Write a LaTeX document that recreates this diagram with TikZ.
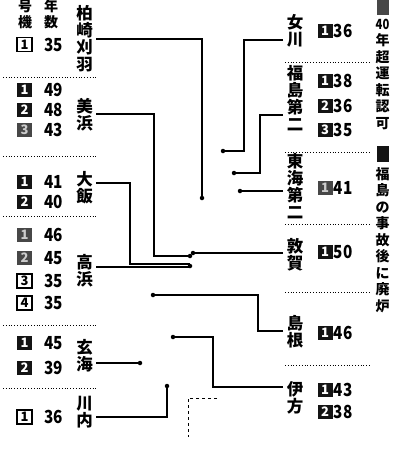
\documentclass[tikz,border=0pt]{standalone}
\usepackage{fontspec}
\newfontfamily\jp{Noto Sans CJK JP}[BoldFont={Noto Sans CJK JP Black}]
\begin{document}
\begin{tikzpicture}[x=1pt,y=-1pt,
  jpname/.style={font=\jp\bfseries\fontsize{16.5}{17}\selectfont, align=center, inner xsep=3.5pt, inner ysep=0pt},
  yrs/.style={font=\jp\bfseries\fontsize{18}{18}\selectfont, inner sep=0pt, xscale=0.85},
  boxbase/.style={minimum width=15pt, minimum height=14pt, inner sep=0pt, font=\jp\bfseries\fontsize{13}{13}\selectfont},
  wbox/.style={boxbase, draw=black, line width=1.2pt, fill=white, text=black},
  xbox/.style={boxbase, fill=black!72, text=white!80!black},
  dbox/.style={boxbase, fill=black!92, text=white},
  sepline/.style={dotted, line width=0.8pt},
  conn/.style={line width=1.2pt, black},
  enddot/.style={circle, fill=black, inner sep=0pt, minimum size=4.5pt},
  legtext/.style={font=\jp\bfseries\fontsize{14}{16.5}\selectfont, align=center, inner sep=0pt},
  head/.style={font=\jp\bfseries\fontsize{14}{16}\selectfont, align=center, inner sep=0pt}
]
\useasboundingbox (0,0) rectangle (397,450);

% ---------- header
\node[head] (h1) at (25,14) {号\\機};
\node[head] (h2) at (51,14) {年\\数};

% ---------- left separators
\foreach \yy in {77,156,216,325,388} \draw[sepline] (3,\yy) -- (97,\yy);
% ---------- right separators
\foreach \yy in {62,152,224,292,365} \draw[sepline] (285,\yy) -- (370,\yy);

% ---------- left names
\node[jpname] (kk) at (84.5,38.5) {柏\\崎\\刈\\羽};
\node[jpname] (mh) at (84.5,115) {美\\浜};
\node[jpname] (oi) at (84.5,187.5) {大\\飯};
\node[jpname] (tk) at (84.5,271) {高\\浜};
\node[jpname] (gk) at (84.5,356) {玄\\海};
\node[jpname] (sd) at (84.5,412) {川\\内};

% ---------- right names
\node[jpname] (og) at (295,31) {女\\川};
\node[jpname] (fd) at (295,98) {福\\島\\第\\二};
\node[jpname] (tt) at (295,186) {東\\海\\第\\二};
\node[jpname] (ts) at (295,255) {敦\\賀};
\node[jpname] (sm) at (295,332) {島\\根};
\node[jpname] (ik) at (295,398) {伊\\方};

% ---------- left rows
\node[wbox] (kk1) at (24.5,44.5) {1}; \node[yrs] (kk1y) at (53.5,44.5) {35};
\node[dbox] (mh1) at (24.5,90) {1};  \node[yrs] (mh1y) at (53.5,90) {49};
\node[dbox] (mh2) at (24.5,110) {2}; \node[yrs] (mh2y) at (53.5,110) {48};
\node[xbox] (mh3) at (24.5,130) {3}; \node[yrs] (mh3y) at (53.5,130) {43};
\node[dbox] (oi1) at (24.5,182) {1}; \node[yrs] (oi1y) at (53.5,182) {41};
\node[dbox] (oi2) at (24.5,202) {2}; \node[yrs] (oi2y) at (53.5,202) {40};
\node[xbox] (tk1) at (24.5,235) {1}; \node[yrs] (tk1y) at (53.5,235) {46};
\node[xbox] (tk2) at (24.5,258) {2}; \node[yrs] (tk2y) at (53.5,258) {45};
\node[wbox] (tk3) at (24.5,281) {3}; \node[yrs] (tk3y) at (53.5,281) {35};
\node[wbox] (tk4) at (24.5,303) {4}; \node[yrs] (tk4y) at (53.5,303) {35};
\node[dbox] (gk1) at (24.5,343) {1}; \node[yrs] (gk1y) at (53.5,343) {45};
\node[dbox] (gk2) at (24.5,368) {2}; \node[yrs] (gk2y) at (53.5,368) {39};
\node[wbox] (sd1) at (24.5,417) {1}; \node[yrs] (sd1y) at (53.5,417) {36};

% ---------- right rows
\node[dbox] (og1) at (325,31) {1};  \node[yrs] (og1y) at (343,31) {36};
\node[dbox] (fd1) at (325,81) {1};  \node[yrs] (fd1y) at (343,81) {38};
\node[dbox] (fd2) at (325,106) {2}; \node[yrs] (fd2y) at (343,106) {36};
\node[dbox] (fd3) at (325,130) {3}; \node[yrs] (fd3y) at (343,130) {35};
\node[xbox] (tt1) at (325,188) {1}; \node[yrs] (tt1y) at (343,188) {41};
\node[dbox] (ts1) at (325,252) {1}; \node[yrs] (ts1y) at (343,252) {50};
\node[dbox] (sm1) at (325,333) {1}; \node[yrs] (sm1y) at (343,333) {46};
\node[dbox] (ik1) at (325,390) {1}; \node[yrs] (ik1y) at (343,390) {43};
\node[dbox] (ik2) at (325,412) {2}; \node[yrs] (ik2y) at (343,412) {38};

% ---------- legend
\node[xbox, minimum width=12pt, minimum height=15pt] (lg1) at (382.5,7.5) {};
\node[legtext] (lg1t) at (382.5,74) {\scalebox{0.8}[1]{40}\\年\\超\\運\\転\\認\\可};
\node[dbox, minimum width=12pt, minimum height=16pt] (lg2) at (382.5,153.5) {};
\node[legtext] (lg2t) at (382.5,240) {福\\島\\の\\事\\故\\後\\に\\廃\\炉};

% ---------- end dots
\node[enddot] (kkdot) at (202,198) {};
\node[enddot] (mhdot) at (190,256) {};
\node[enddot] (tkdot) at (190,266) {};
\node[enddot] (gkdot) at (140,363) {};
\node[enddot] (sddot) at (167,386) {};
\node[enddot] (ogdot) at (223,151) {};
\node[enddot] (fddot) at (234,173) {};
\node[enddot] (ttdot) at (240,191) {};
\node[enddot] (tsdot) at (193,253) {};
\node[enddot] (smdot) at (153,295) {};
\node[enddot] (ikdot) at (173,337) {};

% ---------- bends
\coordinate (kkA) at (202,39);
\coordinate (mhA) at (154,114);
\coordinate (mhB) at (154,256);
\coordinate (oiA) at (130,183);
\coordinate (oiB) at (130,264);
\coordinate (oiE) at (190,264);
\coordinate (tkA) at (97,267);
\coordinate (sdA) at (167,417);
\coordinate (ogA) at (244,40);
\coordinate (ogB) at (244,151);
\coordinate (fdA) at (260,115);
\coordinate (fdB) at (260,173);
\coordinate (smA) at (258,331);
\coordinate (smB) at (258,295);
\coordinate (ikA) at (213,387);
\coordinate (ikB) at (213,337);
\coordinate (daA) at (217,398);
\coordinate (daB) at (188,398);
\coordinate (daC) at (188,437);

% ---------- connectors
\draw[conn] (kk.east |- kkA) -- (kkA) -- (kkdot.center);
\draw[conn] (mh.east |- mhA) -- (mhA) -- (mhB) -- (mhdot.center);
\draw[conn] (oi.east |- oiA) -- (oiA) -- (oiB) -- (oiE);
\draw[conn] (tk.east |- tkA) -- (tkdot.center |- tkA);
\draw[conn] (gk.east |- gkdot) -- (gkdot.center);
\draw[conn] (sd.east |- sdA) -- (sdA) -- (sddot.center);
\draw[conn] (og.west |- ogA) -- (ogA) -- (ogB) -- (ogdot.center);
\draw[conn] (fd.west |- fdA) -- (fdA) -- (fdB) -- (fddot.center);
\draw[conn] (tt.west |- ttdot) -- (ttdot.center);
\draw[conn] (ts.west |- tsdot) -- (tsdot.center);
\draw[conn] (sm.west |- smA) -- (smA) -- (smB) -- (smdot.center);
\draw[conn] (ik.west |- ikA) -- (ikA) -- (ikB) -- (ikdot.center);
\draw[conn, dashed, line width=1pt] (daA) -- (daB) -- (daC);
\end{tikzpicture}
\end{document}
